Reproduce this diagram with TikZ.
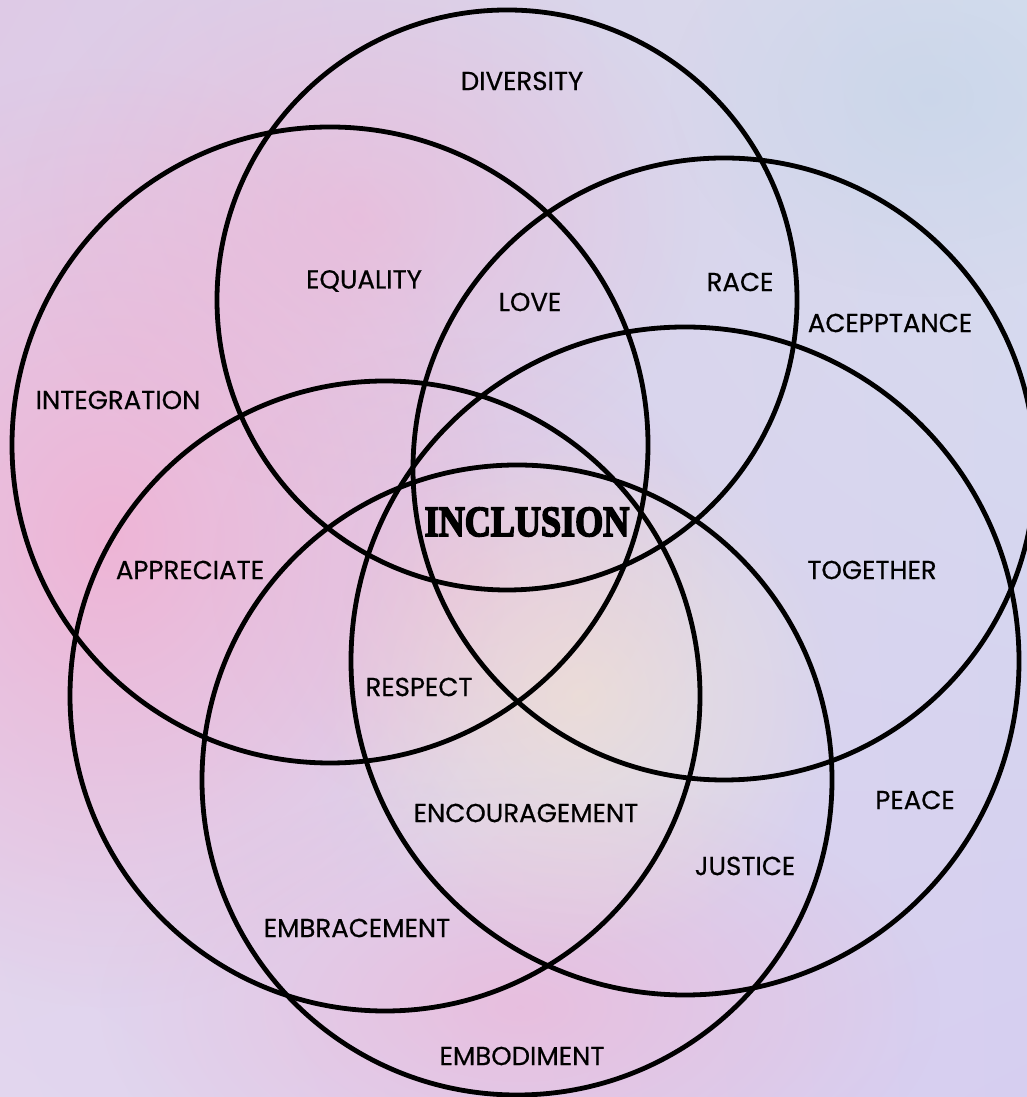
\documentclass[tikz,border=0pt]{standalone}
\usepackage{fontspec}
\usepackage{graphicx}
\usetikzlibrary{positioning,fadings,shadings}
\newfontfamily\labelfont[FakeBold=0.6]{Poppins}
\newfontfamily\titlefont[FakeBold=4]{Liberation Serif}
\definecolor{bgtl}{RGB}{222,202,230}
\definecolor{bgtr}{RGB}{214,222,238}
\definecolor{bgbl}{RGB}{226,214,238}
\definecolor{bgbr}{RGB}{214,206,240}
\definecolor{blush}{RGB}{240,178,212}
\definecolor{haze}{RGB}{252,238,196}
\definecolor{mist}{RGB}{196,212,232}
\tikzfading[name=softblob, inner color=transparent!0, outer color=transparent!100]

\begin{document}
\begin{tikzpicture}[x=1pt,y=1pt,
    ring/.style={line width=4.8pt,draw=black},
    lbl/.style={font=\labelfont\fontsize{26}{26}\selectfont,inner sep=0pt},
    title/.style={font=\titlefont\fontsize{43}{43}\selectfont\bfseries,inner sep=0pt}]
    \clip (0,0) rectangle (1027,1097);
    \shade[upper left=bgtl,upper right=bgtr,lower left=bgbl,lower right=bgbr] (0,0) rectangle (1027,1097);
    \fill[blush,path fading=softblob,opacity=0.9] (110,560) ellipse [x radius=400,y radius=470];
    \fill[blush,path fading=softblob,opacity=0.6] (520,90) ellipse [x radius=420,y radius=230];
    \fill[blush,path fading=softblob,opacity=0.55] (360,880) ellipse [x radius=340,y radius=280];
    \fill[blush,path fading=softblob,opacity=0.4] (470,520) ellipse [x radius=260,y radius=240];
    \fill[haze,path fading=softblob,opacity=0.45] (580,400) ellipse [x radius=260,y radius=260];
    \fill[mist,path fading=softblob,opacity=0.6] (930,1000) ellipse [x radius=260,y radius=200];
    \foreach \cx/\cy/\r in {507/797/290, 330/652/318, 724/628/311,
                            685/436/334, 385/401/315, 517/317/315}
        \draw[ring] (\cx,\cy) circle[radius=\r];
    \node[title] (inclusion) at (527,575) {\scalebox{0.84}[1]{INCLUSION}};
    \node[lbl] (diversity) at (522,1016) {DIVERSITY};
    \node[lbl] (equality) at (364,816) {EQUALITY};
    \node[lbl] (love) at (530,795) {LOVE};
    \node[lbl] (race) at (740,815) {RACE};
    \node[lbl] (acceptance) at (890,774) {ACEPPTANCE};
    \node[lbl] (integration) at (118,697) {INTEGRATION};
    \node[lbl] (appreciate) at (190,527) {APPRECIATE};
    \node[lbl] (together) at (872,527) {TOGETHER};
    \node[lbl] (respect) at (419,410) {RESPECT};
    \node[lbl] (encouragement) at (526,284) {ENCOURAGEMENT};
    \node[lbl] (peace) at (915,297) {PEACE};
    \node[lbl] (justice) at (745,231) {JUSTICE};
    \node[lbl] (embracement) at (357,169) {EMBRACEMENT};
    \node[lbl] (embodiment) at (522,41) {EMBODIMENT};
\end{tikzpicture}
\end{document}
